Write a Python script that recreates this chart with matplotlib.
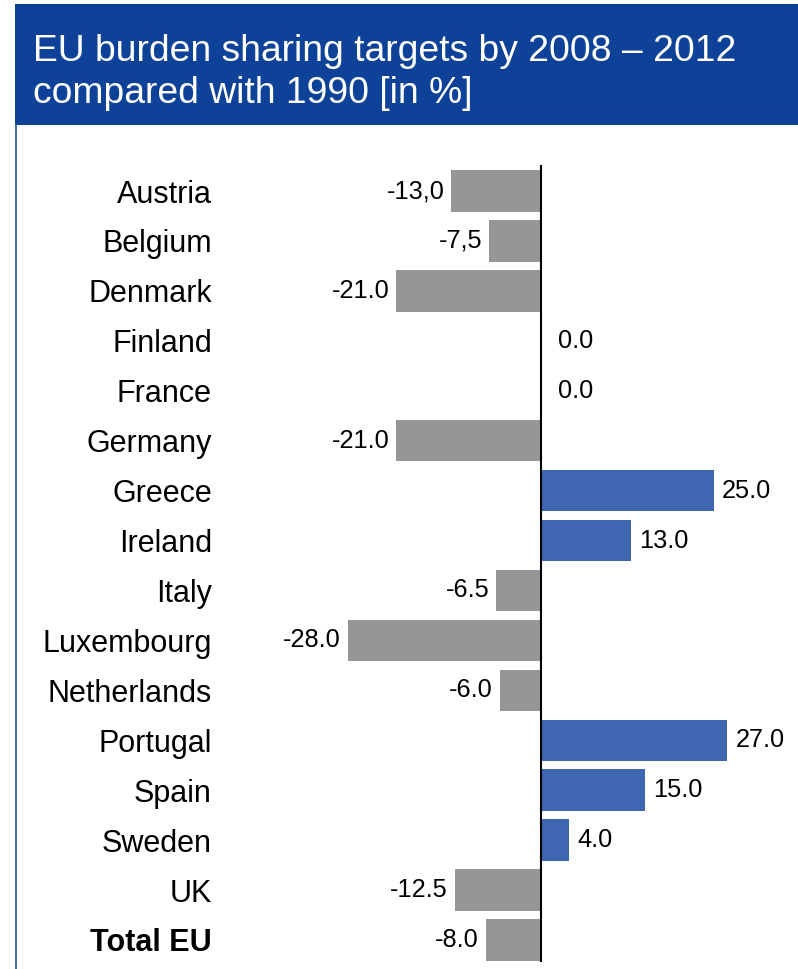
import matplotlib
matplotlib.use("Agg")
import matplotlib.pyplot as plt
from matplotlib.patches import Rectangle
from matplotlib.lines import Line2D

plt.rcParams["font.family"] = ["Liberation Sans", "DejaVu Sans"]

# ---- data ----
countries = ["Austria", "Belgium", "Denmark", "Finland", "France", "Germany", "Greece", "Ireland",
             "Italy", "Luxembourg", "Netherlands", "Portugal", "Spain", "Sweden", "UK", "Total EU"]
targets = [-13.0, -7.5, -21.0, 0.0, 0.0, -21.0, 25.0, 13.0, -6.5, -28.0, -6.0, 27.0, 15.0, 4.0, -12.5, -8.0]
value_labels = ["-13,0", "-7,5", "-21.0", "0.0", "0.0", "-21.0", "25.0", "13.0", "-6.5", "-28.0",
                "-6.0", "27.0", "15.0", "4.0", "-12.5", "-8.0"]
title_lines = ["EU burden sharing targets by 2008 \u2013 2012", "compared with 1990 [in %]"]

HEADER = "#0E4299"; GRAY = "#969696"; BLUE = "#3F67B1"
W, H = 798, 969

fig = plt.figure(figsize=(W / 100, H / 100), dpi=100, facecolor="white")

# header band + left frame line (pixel coords -> figure fraction)
fig.add_artist(Rectangle((15 / W, 1 - 125 / H), (W - 15) / W, 121 / H, transform=fig.transFigure,
                         facecolor=HEADER, edgecolor="none"))
fig.add_artist(Line2D([15.5 / W, 15.5 / W], [0, 1 - 125 / H], transform=fig.transFigure,
                      color="#2F5BB0", lw=1.3))
for base, line in zip([61, 103], title_lines):
    fig.text(33 / W, 1 - base / H, line, color="white", fontsize=26.8, ha="left", va="baseline")

# plot area: zero at x=541px, ~6.9 px per unit; rows 0..15 at y=191..940px
x0, x1, y0, y1 = 230, 790, 165, 962
ax = fig.add_axes([x0 / W, 1 - y1 / H, (x1 - x0) / W, (y1 - y0) / H])
ppu = 6.9
ax.set_xlim((x0 - 541) / ppu, (x1 - 541) / ppu)
ax.set_ylim(15 + (y1 - 940) / 49.93, -(191 - y0) / 49.93)

ypos = list(range(len(countries)))
colors = [BLUE if v > 0 else GRAY for v in targets]
ax.barh(ypos, targets, height=0.83, color=colors, edgecolor="none", zorder=2)
ax.axvline(0, color="black", lw=1.5, zorder=3)

for y, v, lab in zip(ypos, targets, value_labels):
    if v < 0:
        ax.annotate(lab, (v, y), xytext=(-5, 0), textcoords="offset points", ha="right", va="center",
                    fontsize=18.3)
    else:
        off = 6 if v > 0 else 12
        ax.annotate(lab, (v, y), xytext=(off, 0), textcoords="offset points", ha="left", va="center",
                    fontsize=18.3)

ax.set_yticks(ypos)
ax.set_yticklabels(countries, fontsize=22)
ax.get_yticklabels()[-1].set_fontweight("bold")
ax.tick_params(axis="y", length=0, pad=13)
ax.set_xticks([])
for s in ax.spines.values():
    s.set_visible(False)
ax.set_facecolor("none")

fig.savefig("out.png", dpi=100, facecolor="white")
